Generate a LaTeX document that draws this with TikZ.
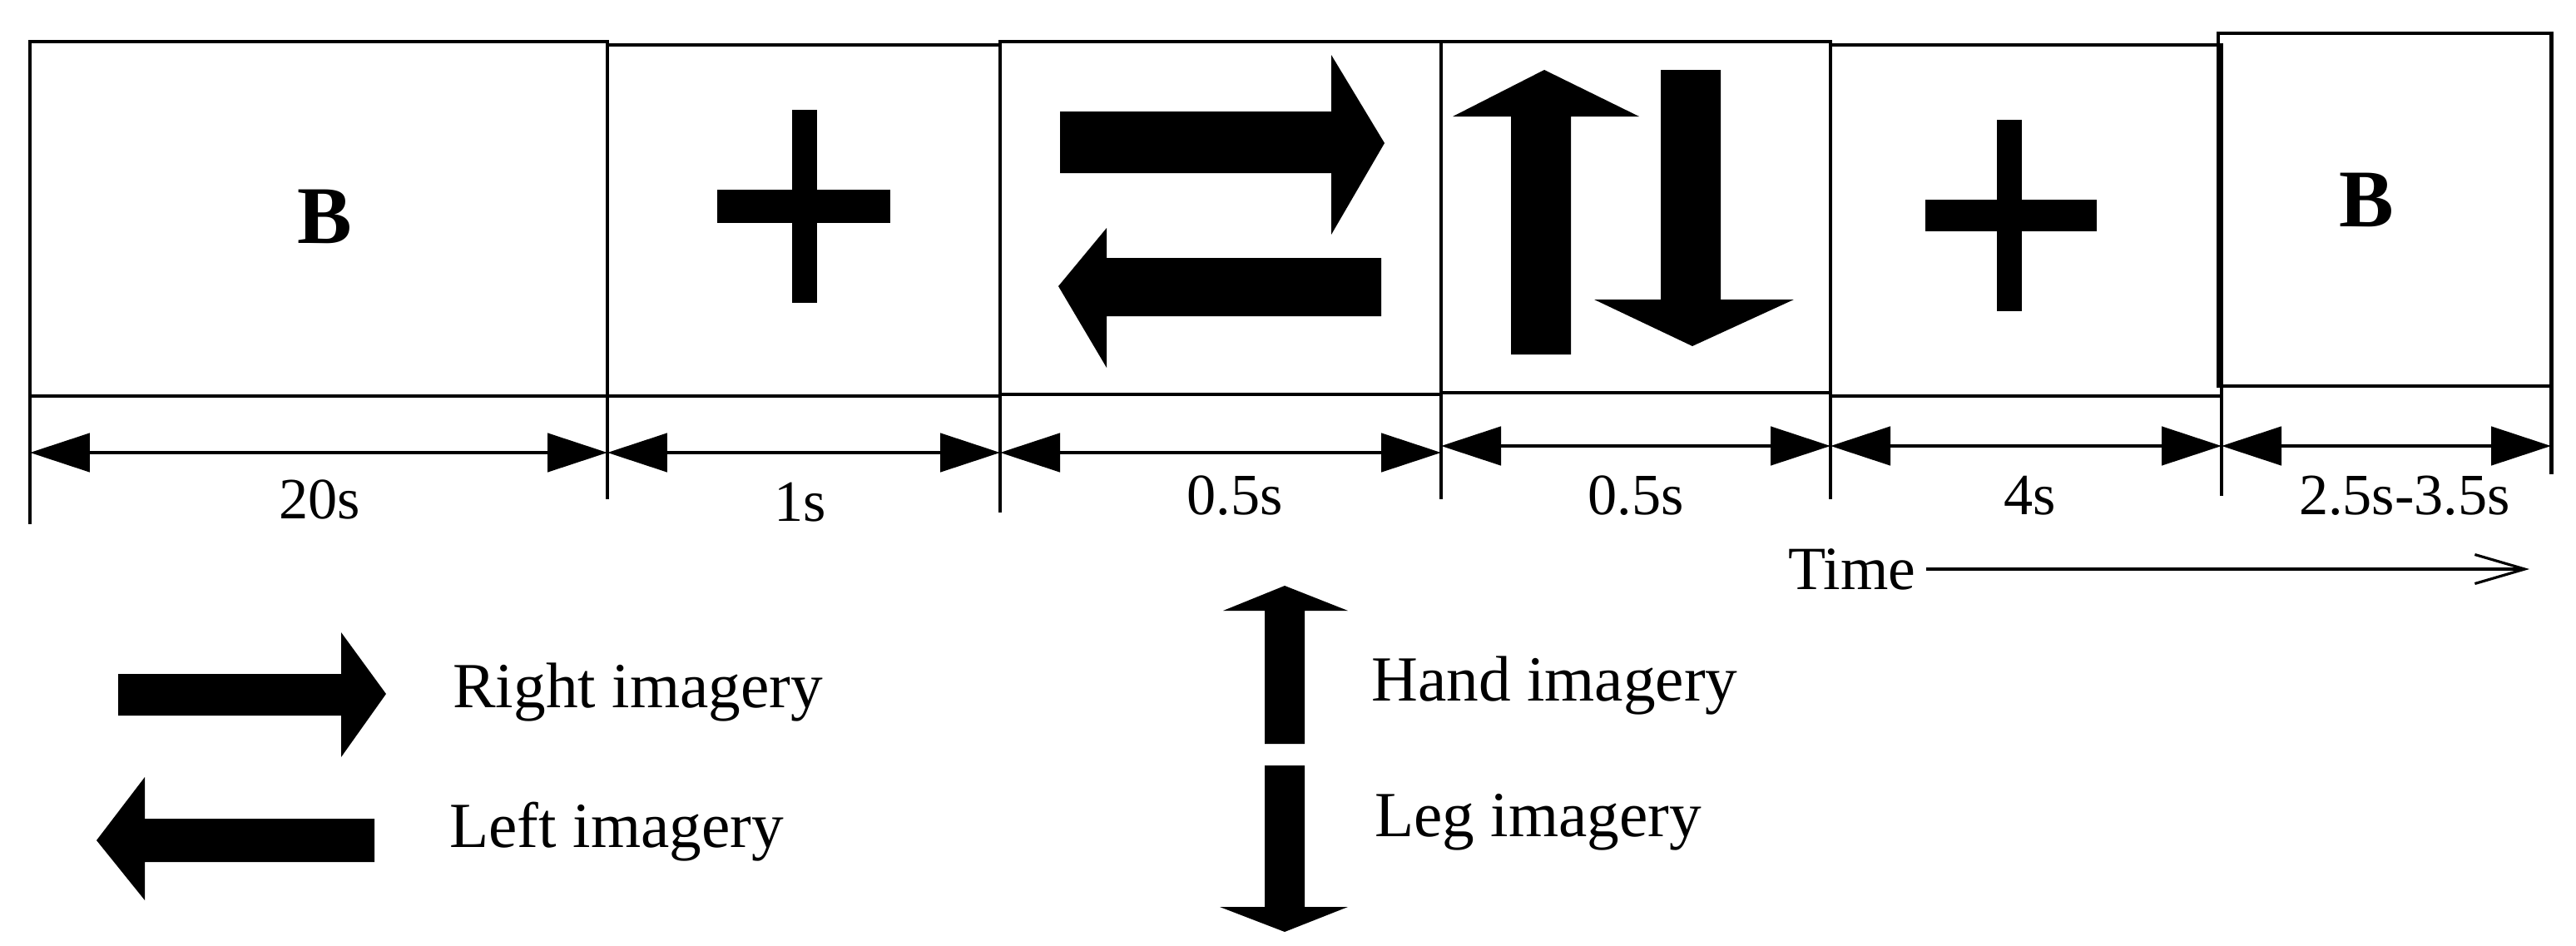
\documentclass[tikz,border=0pt]{standalone}
\usepackage{fontspec}
\setmainfont{Liberation Serif}
\usetikzlibrary{arrows.meta}
\begin{document}
\begin{tikzpicture}[x=0.02cm,y=-0.02cm,
  frame/.style={draw,line width=1.4pt},
  dim/.style={line width=1.4pt,{Triangle[length=0.72cm,width=0.46cm]}-{Triangle[length=0.72cm,width=0.46cm]}},
  tick/.style={line width=1.4pt},
  lbl/.style={font=\fontsize{20}{24}\selectfont},
  leg/.style={font=\fontsize{22}{26}\selectfont,anchor=west},
  bb/.style={font=\fontsize{28}{32}\selectfont\bfseries}]
\useasboundingbox (0,0) rectangle (1548,568);
% boxes
\draw[frame] (18,25) rectangle (365,238);
\draw[frame] (365,27) rectangle (601,238);
\draw[frame] (601,25) rectangle (866,237);
\draw[frame] (866,25) rectangle (1100,236);
\draw[frame] (1100,27) rectangle (1335,238);
\draw[frame] (1333,20) rectangle (1533,232);
\node[bb] (b1) at (195,130) {B};
\node[bb] (b2) at (1422,120) {B};
% crosses
\fill (476,66) rectangle (491,182); \fill (431,114) rectangle (535,134);
\fill (1200,72) rectangle (1215,187); \fill (1157,120) rectangle (1260,139);
% box3 arrows
\fill (637,67) -- (800,67) -- (800,33) -- (832,86) -- (800,141) -- (800,104) -- (637,104) -- cycle;
\fill (830,155) -- (665,155) -- (665,137) -- (636,172) -- (665,221) -- (665,190) -- (830,190) -- cycle;
% box4 arrows
\fill (908,213) -- (908,70) -- (873,70) -- (928,42) -- (985,70) -- (944,70) -- (944,213) -- cycle;
\fill (998,42) -- (998,180) -- (958,180) -- (1017,208) -- (1078,180) -- (1034,180) -- (1034,42) -- cycle;
% ticks
\foreach \x/\b in {18/315,365/300,601/308,866/300,1100/300,1335/298}
  \draw[tick] (\x,238) -- (\x,\b);
\draw[tick] (1533,232) -- (1533,285);
% dims
\coordinate (d0) at (18,272); \coordinate (d1) at (365,272); \coordinate (d2) at (601,272);
\coordinate (d2e) at (866,272); \coordinate (d3) at (866,268); \coordinate (d4) at (1100,268);
\coordinate (d5) at (1335,268); \coordinate (d6) at (1533,268);
\draw[dim] (d0) -- (d1); \draw[dim] (d1) -- (d2); \draw[dim] (d2) -- (d2e);
\draw[dim] (d3) -- (d4); \draw[dim] (d4) -- (d5); \draw[dim] (d5) -- (d6);
\node[lbl] (t1) at (192,300) {20s};
\node[lbl] (t2) at (481,302) {1s};
\node[lbl] (t3) at (742,298) {0.5s};
\node[lbl] (t4) at (983,298) {0.5s};
\node[lbl] (t5) at (1220,298) {4s};
\node[lbl] (t6) at (1445,298) {2.5s-3.5s};
\node[lbl,font=\fontsize{21}{24}\selectfont] (time) at (1113,342) {Time};
\coordinate (te) at (1520,342);
\draw[line width=0.9pt,-{Straight Barb[length=0.6cm,width=0.35cm]}] (time.east) -- (te);
% legend
\fill (71,405) -- (205,405) -- (205,380) -- (232,417) -- (205,455) -- (205,430) -- (71,430) -- cycle;
\fill (225,492) -- (87,492) -- (87,467) -- (58,505) -- (87,541) -- (87,518) -- (225,518) -- cycle;
\fill (760,447) -- (760,367) -- (735,367) -- (772,352) -- (810,367) -- (784,367) -- (784,447) -- cycle;
\fill (760,460) -- (760,545) -- (733,545) -- (772,560) -- (810,545) -- (784,545) -- (784,460) -- cycle;
\node[leg] (r) at (266,416) {Right imagery};
\node[leg] (l) at (264,500) {Left imagery};
\node[leg] (h) at (818,412) {Hand imagery};
\node[leg] (g) at (820,494) {Leg imagery};
\end{tikzpicture}
\end{document}
